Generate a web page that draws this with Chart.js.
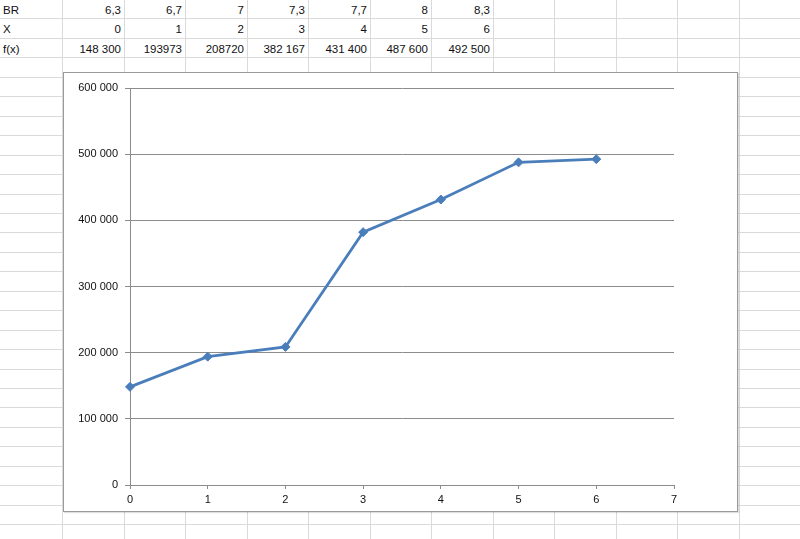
<!DOCTYPE html>
<html>
<head>
<meta charset="utf-8">
<script src="https://cdn.jsdelivr.net/npm/chart.js@4/dist/chart.umd.min.js"></script>
<style>
html,body{margin:0;padding:0;background:#fff;width:800px;height:539px;overflow:hidden;}
#sheet{position:absolute;left:0;top:0;width:800px;height:539px;}
.vl{position:absolute;top:0;width:1px;height:539px;background:#dadada;}
.hl{position:absolute;left:0;height:1px;width:800px;background:#dadada;}
.cell{position:absolute;height:19px;line-height:20px;font-family:"Liberation Sans","DejaVu Sans",sans-serif;font-size:11.5px;color:#111;white-space:nowrap;}
#box{position:absolute;left:63px;top:72px;width:675px;height:440px;box-sizing:border-box;border:1px solid #9a9a9a;background:#fff;box-shadow:1px 1px 1px rgba(0,0,0,0.12);}
#box canvas{position:absolute;left:0;top:0;}
</style>
</head>
<body>
<div id="sheet"></div>
<div id="box"><canvas id="c" width="673" height="438"></canvas></div>
<script>
// ---- data ----
const rowLabels = ["BR", "X", "f(x)"];
const brLabels = ["6,3", "6,7", "7", "7,3", "7,7", "8", "8,3"];
const xValues = [0, 1, 2, 3, 4, 5, 6];
const fxLabels = ["148 300", "193973", "208720", "382 167", "431 400", "487 600", "492 500"];
const fxValues = [148300, 193973, 208720, 382167, 431400, 487600, 492500];
const yTicks = [0, 100000, 200000, 300000, 400000, 500000, 600000];
const xTicks = [0, 1, 2, 3, 4, 5, 6, 7];

// ---- spreadsheet grid ----
const sheet = document.getElementById('sheet');
const colW = 61.5, col0 = 62, rowH = 19.45;
for (let k = 0; k < 13; k++) {
  const d = document.createElement('div'); d.className = 'vl';
  d.style.left = Math.round(col0 + k * colW) + 'px'; sheet.appendChild(d);
}
for (let r = 1; r < 28; r++) {
  const d = document.createElement('div'); d.className = 'hl';
  d.style.top = Math.round(r * rowH - 1) + 'px'; sheet.appendChild(d);
}
function cell(text, row, col, left) {
  const d = document.createElement('div'); d.className = 'cell';
  d.textContent = text;
  d.style.top = Math.round(row * rowH) + 'px';
  if (left) { d.style.left = '3px'; }
  else {
    const right = 800 - Math.round(col0 + (col + 1) * colW) + 3;
    d.style.right = right + 'px';
  }
  sheet.appendChild(d);
}
const rows = [brLabels, xValues.map(String), fxLabels];
rowLabels.forEach((lab, r) => {
  cell(lab, r, -1, true);
  rows[r].forEach((t, i) => cell(t, r, i, false));
});

// ---- chart ----
const fmt = v => String(v).replace(/\B(?=(\d{3})+(?!\d))/g, ' ');
const FONT = {family: '"Liberation Sans","DejaVu Sans",sans-serif', size: 11};
new Chart(document.getElementById('c'), {
  type: 'line',
  data: {
    datasets: [{
      data: xValues.map((x, i) => ({x: x, y: fxValues[i]})),
      borderColor: '#4a7ebb',
      backgroundColor: '#4a7ebb',
      borderWidth: 2.75,
      pointStyle: 'rectRot',
      pointRadius: 4.5,
      pointBorderWidth: 1,
      tension: 0,
      fill: false,
      clip: false
    }]
  },
  options: {
    responsive: false,
    animation: false,
    devicePixelRatio: 1,
    layout: {padding: {left: 0, right: 63, top: 15, bottom: 0}},
    plugins: {legend: {display: false}, tooltip: {enabled: false}},
    scales: {
      x: {
        type: 'linear', min: 0, max: 7,
        afterBuildTicks: s => { s.ticks = xTicks.map(v => ({value: v})); },
        afterFit: s => { s.height = 26; },
        grid: {drawOnChartArea: false, drawTicks: true, tickLength: 4, color: '#8c8c8c'},
        border: {color: '#8c8c8c', width: 1},
        ticks: {color: '#111', font: FONT, padding: 4, maxRotation: 0}
      },
      y: {
        min: 0, max: 600000,
        afterBuildTicks: s => { s.ticks = yTicks.map(v => ({value: v})); },
        afterFit: s => { s.width = 66; },
        grid: {color: '#8c8c8c', drawTicks: true, tickLength: 5, lineWidth: 1},
        border: {color: '#8c8c8c', width: 1},
        ticks: {color: '#111', font: FONT, padding: 7, callback: v => fmt(v)}
      }
    }
  }
});
</script>
</body>
</html>
